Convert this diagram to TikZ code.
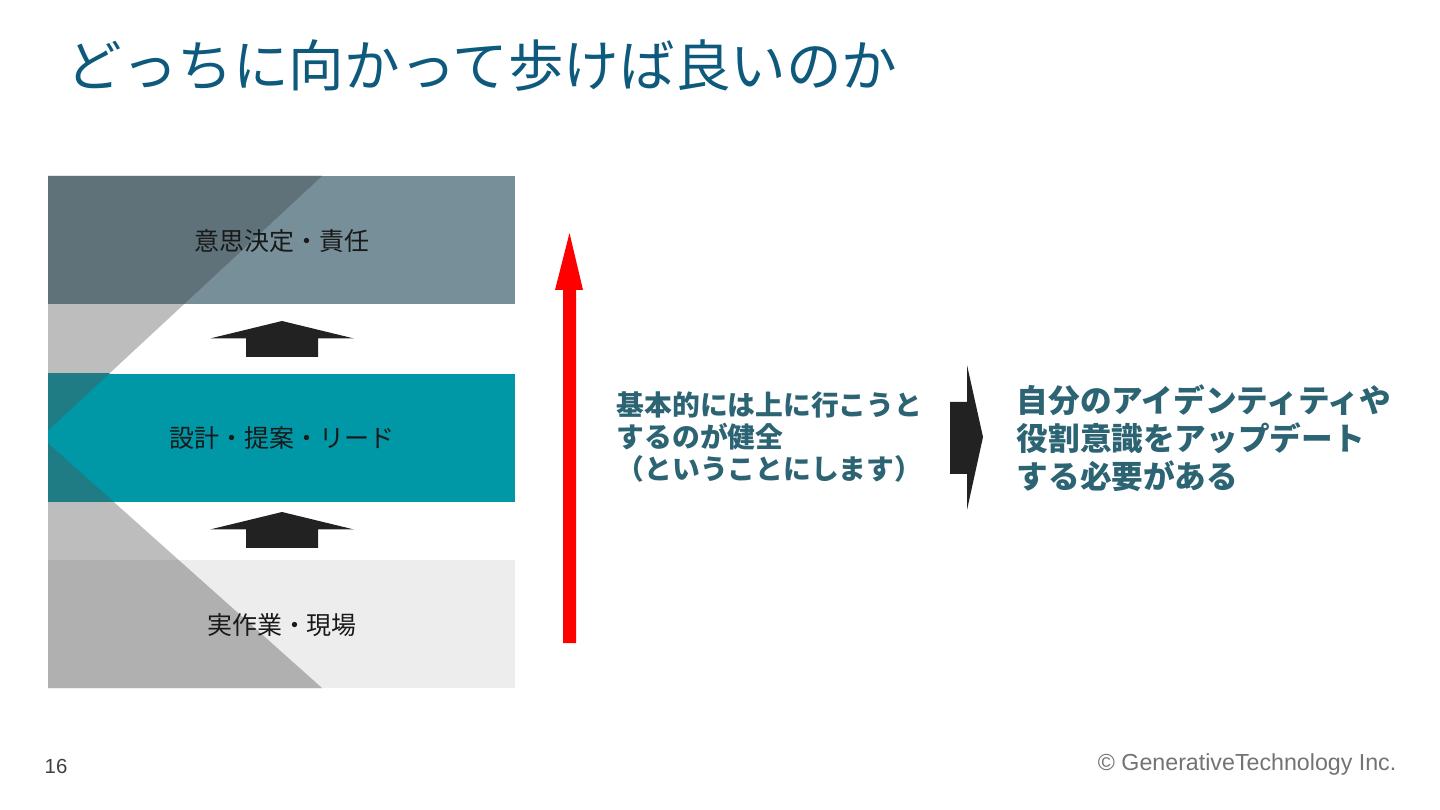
\documentclass[tikz,border=0pt]{standalone}
\usepackage{fontspec}
\setmainfont{Noto Sans CJK JP}
\newfontfamily\footfont{Liberation Sans}
\definecolor{titleblue}{HTML}{0E5A7C}
\definecolor{noteteal}{HTML}{2C6474}
\definecolor{topband}{HTML}{778F99}
\definecolor{topdark}{HTML}{5F7179}
\definecolor{midband}{HTML}{0097A7}
\definecolor{middark}{HTML}{1F7B84}
\definecolor{lowband}{HTML}{EDEDED}
\definecolor{lowdark}{HTML}{B0B0B0}
\definecolor{gapgray}{HTML}{BDBDBD}
\definecolor{blockblack}{HTML}{222222}
\begin{document}
\begin{tikzpicture}[x=0.01cm,y=-0.01cm,
  bandtext/.style={font=\fontsize{7.1}{8}\selectfont,text=black!90},
  note/.style={font=\bfseries\fontsize{7.9}{9.1}\selectfont,text=noteteal,align=left,inner sep=0pt,anchor=north west},
  bignote/.style={font=\bfseries\fontsize{9}{10.8}\selectfont,text=noteteal,align=left,inner sep=0pt,anchor=north west}]
\useasboundingbox (0,0) rectangle (1440,810);
\fill[white] (0,0) rectangle (1440,810);

\node[font=\fontsize{15.8}{18}\selectfont,text=titleblue,inner sep=0pt,anchor=north west] (title) at (66,39) {どっちに向かって歩けば良いのか};

% chevron in the gaps
\begin{scope}
\clip (48,176) rectangle (515,688);
\fill[gapgray] (322,176) -- (41,437) -- (322,688) -- (41,688) -- (41,176) -- cycle;
\end{scope}
% bands with the darker chevron part
\foreach \ya/\yb/\light/\dark in {176/304/topband/topdark,374/502/midband/middark,560/688/lowband/lowdark}{
  \fill[\light] (48,\ya) rectangle (515,\yb);
  \begin{scope}
  \clip (48,\ya) rectangle (515,\yb);
  \fill[\dark] (322,176) -- (41,437) -- (322,688) -- (41,688) -- (41,176) -- cycle;
  \end{scope}
}
\node[bandtext] (decide) at (282,241) {意思決定・責任};
\node[bandtext] (design) at (282,438) {設計・提案・リード};
\node[bandtext] (work) at (282,625) {実作業・現場};

\foreach \ty in {321,512}
  \fill[blockblack] (282,\ty) -- (354,\ty+17.5) -- (318,\ty+17.5) -- (318,\ty+36) -- (246,\ty+36) -- (246,\ty+17.5) -- (210,\ty+17.5) -- cycle;

% red arrow
\fill[red] (569.5,233) -- (583,290) -- (576,290) -- (576,643) -- (563,643) -- (563,290) -- (555,290) -- cycle;

\node[note] (healthy) at (616,391) {基本的には上に行こうと\\するのが健全\\（ということにします）};

\fill[blockblack] (950,402) -- (967,402) -- (967,365) -- (983,437) -- (967,510) -- (967,474) -- (950,474) -- cycle;

\node[bignote] (update) at (1016,384) {自分のアイデンティティや\\役割意識をアップデート\\する必要がある};

\node[font=\footfont\fontsize{5.8}{7}\selectfont,text=black!75,anchor=west,inner sep=0pt] (page) at (44,766) {16};
\node[font=\footfont\fontsize{6.6}{8}\selectfont,text=black!55,anchor=east,inner sep=0pt] (copy) at (1397,764) {© GenerativeTechnology Inc.};
\end{tikzpicture}
\end{document}
